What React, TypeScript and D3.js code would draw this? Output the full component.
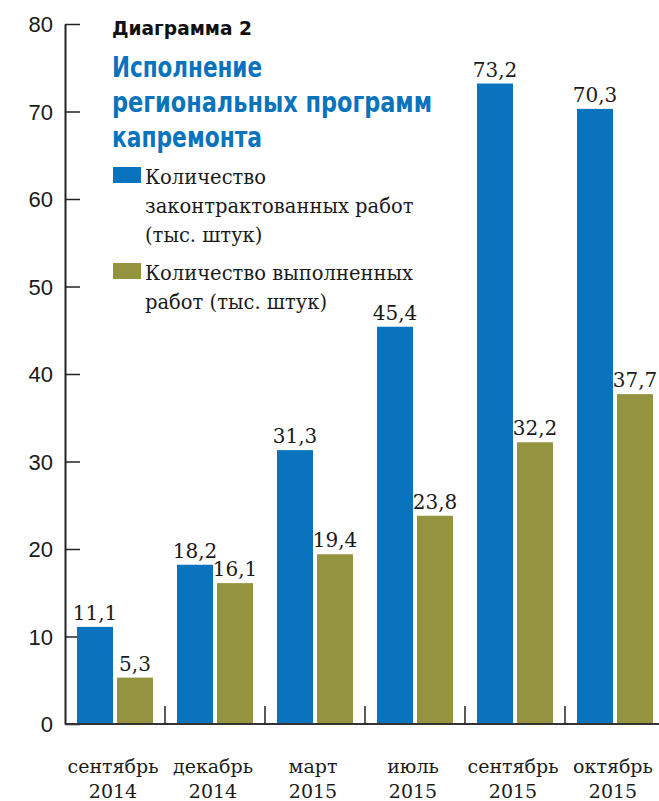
import { useEffect, useRef } from 'react';
import * as d3 from 'd3';

const months = ['сентябрь', 'декабрь', 'март', 'июль', 'сентябрь', 'октябрь'];
const years = ['2014', '2014', '2015', '2015', '2015', '2015'];
const contracted = [11.1, 18.2, 31.3, 45.4, 73.2, 70.3];
const completed = [5.3, 16.1, 19.4, 23.8, 32.2, 37.7];
const seriesNames = ['contracted', 'completed'];
const yTicks = [0, 10, 20, 30, 40, 50, 60, 70, 80];
const titleLines = ['Исполнение', 'региональных программ', 'капремонта'];

const BLUE = '#0a73bd';
const OLIVE = '#949440';

export default function App() {
  const svgRef = useRef<SVGSVGElement | null>(null);

  useEffect(() => {
    const width = 659;
    const height = 801;
    const margin = { top: 24, left: 65, bottom: 77 };
    const serif = '"DejaVu Serif", "Liberation Serif", serif';
    const sans = '"Liberation Sans", Arial, sans-serif';
    const narrow = '"DejaVu Sans Condensed", "DejaVu Sans", sans-serif';

    const svg = d3.select(svgRef.current);
    svg.selectAll('*').remove();
    svg.attr('width', width).attr('height', height);

    const x = d3.scaleBand<number>()
      .domain(d3.range(months.length))
      .range([margin.left, margin.left + 100 * months.length])
      .padding(0);

    const xInner = d3.scaleBand<string>()
      .domain(seriesNames)
      .range([12, 88])
      .paddingInner(0.1);

    const y = d3.scaleLinear()
      .domain([0, 80])
      .range([height - margin.bottom, margin.top]);

    const g = svg.append('g');

    // y axis
    const yAxis = g.append('g')
      .attr('transform', `translate(${margin.left},0)`)
      .call(d3.axisLeft(y).tickValues(yTicks).tickSizeInner(-15).tickSizeOuter(0).tickPadding(12));
    yAxis.select('.domain').attr('stroke', '#222').attr('stroke-width', 2);
    yAxis.selectAll('.tick line').attr('stroke', '#222').attr('stroke-width', 1.5);
    yAxis.selectAll('.tick text')
      .attr('fill', '#1a1a1a')
      .style('font-family', sans)
      .style('font-size', '22px')
      .attr('dy', '0.36em');

    // bars
    const data = months.map((m, i) => ({ i, values: [contracted[i], completed[i]] }));
    const colors = [BLUE, OLIVE];

    const groups = g.selectAll('g.grp')
      .data(data)
      .enter()
      .append('g')
      .attr('class', 'grp')
      .attr('transform', d => `translate(${x(d.i)},0)`);

    groups.each(function (d) {
      const grp = d3.select(this);
      d.values.forEach((v, k) => {
        const bx = xInner(seriesNames[k])!;
        grp.append('rect')
          .attr('x', bx)
          .attr('y', y(v))
          .attr('width', xInner.bandwidth())
          .attr('height', y(0) - y(v))
          .attr('fill', colors[k]);
        grp.append('text')
          .attr('x', bx + xInner.bandwidth() / 2)
          .attr('y', y(v) - 7)
          .attr('text-anchor', 'middle')
          .style('font-family', serif)
          .style('font-size', '20px')
          .attr('fill', '#1a1a1a')
          .text(v.toFixed(1).replace('.', ','));
      });
    });

    // x axis baseline + separators
    g.append('line')
      .attr('x1', margin.left)
      .attr('x2', width)
      .attr('y1', y(0))
      .attr('y2', y(0))
      .attr('stroke', '#333')
      .attr('stroke-width', 2);

    g.selectAll('line.sep')
      .data(d3.range(1, months.length))
      .enter()
      .append('line')
      .attr('class', 'sep')
      .attr('x1', d => x(d)!)
      .attr('x2', d => x(d)!)
      .attr('y1', y(0))
      .attr('y2', y(0) - 18)
      .attr('stroke', '#222')
      .attr('stroke-width', 1.5);

    const xl = g.selectAll('text.xl')
      .data(data)
      .enter()
      .append('text')
      .attr('class', 'xl')
      .attr('text-anchor', 'middle')
      .style('font-family', serif)
      .style('font-size', '19px')
      .attr('fill', '#1a1a1a');
    xl.append('tspan')
      .attr('x', d => x(d.i)! + x.bandwidth() / 2 - 2)
      .attr('y', 773)
      .text(d => months[d.i]);
    xl.append('tspan')
      .attr('x', d => x(d.i)! + x.bandwidth() / 2 - 2)
      .attr('y', 798)
      .text(d => years[d.i]);

    // title
    g.append('text')
      .attr('x', 112)
      .attr('y', 35)
      .style('font-family', narrow)
      .style('font-stretch', 'condensed')
      .style('font-weight', 'bold')
      .style('font-size', '20px')
      .attr('fill', '#111')
      .attr('textLength', 140)
      .attr('lengthAdjust', 'spacingAndGlyphs')
      .text('Диаграмма 2');

    const titleWidths = [150, 320, 150];
    g.selectAll('text.title')
      .data(titleLines)
      .enter()
      .append('text')
      .attr('class', 'title')
      .attr('x', 112)
      .attr('y', (d, i) => 77 + i * 35)
      .style('font-family', narrow)
      .style('font-stretch', 'condensed')
      .style('font-weight', 'bold')
      .style('font-size', '28px')
      .attr('fill', BLUE)
      .attr('textLength', (d, i) => titleWidths[i])
      .attr('lengthAdjust', 'spacingAndGlyphs')
      .text(d => d);

    // legend
    const legend = [
      { color: BLUE, lines: ['Количество', 'законтрактованных работ', '(тыс. штук)'], top: 167 },
      { color: OLIVE, lines: ['Количество выполненных', 'работ (тыс. штук)'], top: 263 },
    ];
    legend.forEach(item => {
      g.append('rect')
        .attr('x', 113)
        .attr('y', item.top)
        .attr('width', 28)
        .attr('height', 16)
        .attr('fill', item.color);
      const t = g.append('text')
        .style('font-family', serif)
        .style('font-size', '19.5px')
        .attr('fill', '#1a1a1a');
      item.lines.forEach((ln, i) => {
        t.append('tspan')
          .attr('x', 145)
          .attr('y', item.top + 17 + i * 29)
          .text(ln);
      });
    });
  }, []);

  return (
    <div style={{ position: 'absolute', left: 0, top: 0 }}>
      <svg ref={svgRef} style={{ display: 'block', background: '#fff' }} />
    </div>
  );
}
